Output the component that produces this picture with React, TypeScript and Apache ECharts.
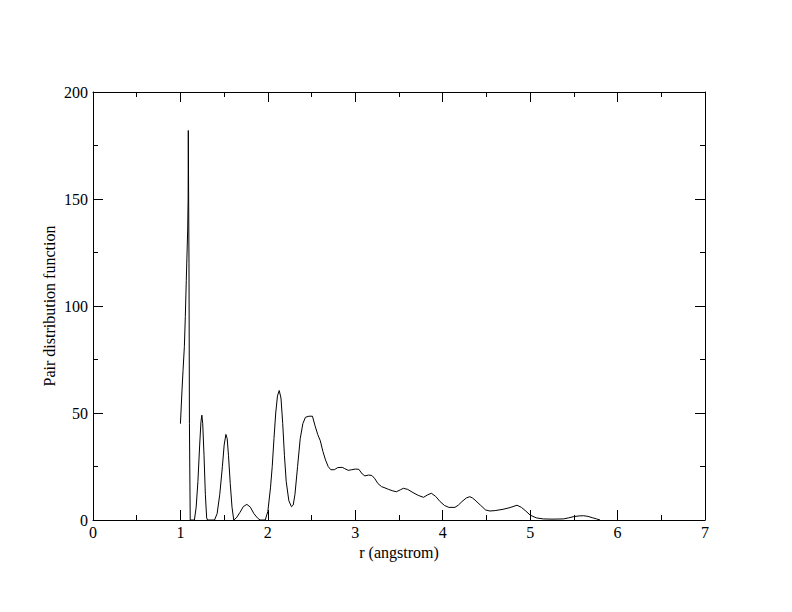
import React, { useEffect, useRef } from "react";
import * as echarts from "echarts";

const rValues: number[] = [
  1.0, 1.018, 1.03, 1.045, 1.056, 1.067, 1.083, 1.088, 1.09, 1.094, 1.098, 1.103, 1.112,
  1.16, 1.18, 1.2, 1.22, 1.235, 1.245, 1.255, 1.27, 1.285, 1.3, 1.31,
  1.39, 1.42, 1.45, 1.48, 1.5, 1.52, 1.535, 1.55, 1.57, 1.59, 1.61,
  1.64, 1.68, 1.72, 1.76, 1.8, 1.84, 1.88, 1.91,
  1.97, 2.0, 2.03, 2.05, 2.07, 2.09, 2.11, 2.13, 2.15, 2.17, 2.19, 2.21, 2.24, 2.27, 2.29,
  2.31, 2.34, 2.37, 2.4, 2.43, 2.47, 2.51, 2.54, 2.57, 2.6, 2.63, 2.66, 2.69, 2.72, 2.76,
  2.8, 2.85, 2.88, 2.92, 2.96, 3.0, 3.04, 3.08, 3.11, 3.15, 3.19, 3.22, 3.26, 3.3, 3.34,
  3.38, 3.43, 3.47, 3.52, 3.55, 3.6, 3.66, 3.72, 3.78, 3.83, 3.87, 3.92, 3.97, 4.02, 4.07,
  4.14, 4.18, 4.22, 4.27, 4.31, 4.34, 4.37, 4.43, 4.49, 4.54, 4.6, 4.69, 4.77, 4.85, 4.9,
  4.95, 5.0, 5.07, 5.15, 5.25, 5.38, 5.44, 5.5, 5.56, 5.61, 5.66, 5.71, 5.76, 5.8,
];

const gValues: number[] = [
  45, 60.7, 70, 81, 95, 112, 135.5, 150, 182, 150, 120, 45, 0,
  0, 6, 18, 35, 46, 49, 45, 30, 12, 1, 0,
  0, 3, 12, 25, 35, 40, 38, 30, 17, 6, 0,
  1, 3.5, 6.3, 7.3, 6, 3, 1, 0,
  0, 4, 15, 25, 38, 50, 58, 60.5, 57, 45, 30, 18, 9, 6.2, 7,
  12, 25, 38, 45, 48, 48.5, 48.5, 44, 40, 37, 32, 28, 25, 23.5, 23.5,
  24.5, 24.6, 24, 23.2, 23.5, 23.8, 23.7, 21.5, 20.6, 21, 20.8, 19.5, 17, 15.6, 15,
  14.3, 13.6, 13.2, 14.2, 14.8, 14.3, 12.8, 11.5, 10.6, 11.8, 12.5, 11, 8.6, 6.8, 5.9,
  5.9, 7, 8.6, 10.3, 10.9, 10.3, 9.3, 7, 4.7, 4.2, 4.4, 5, 5.8, 6.9, 5.9,
  4.2, 2.3, 1, 0.5, 0.4, 0.5, 1, 1.6, 1.9, 2.0, 1.7, 1.1, 0.5, 0,
];

const xTicks = [0, 1, 2, 3, 4, 5, 6, 7];
const yTicks = [0, 50, 100, 150, 200];

const FONT = "'Liberation Serif', 'Times New Roman', 'DejaVu Serif', serif";

export default function App() {
  const ref = useRef<HTMLDivElement>(null);
  useEffect(() => {
    if (!ref.current) return;
    const chart = echarts.init(ref.current, undefined, { renderer: "svg" });
    const data = rValues.map((r, i) => [r, gValues[i]]);
    const axisLine = { show: true, onZero: false, lineStyle: { color: "#000", width: 1 } };
    const majorTick = { show: true, inside: true, length: 10, lineStyle: { color: "#000", width: 1 } };
    const minorTick = { show: true, splitNumber: 2, length: 5, lineStyle: { color: "#000", width: 1 } };
    chart.setOption({
      animation: false,
      backgroundColor: "#fff",
      textStyle: { fontFamily: FONT },
      grid: { left: 93, right: 87, top: 92, bottom: 92, containLabel: false },
      xAxis: [
        {
          type: "value",
          min: xTicks[0],
          max: xTicks[xTicks.length - 1],
          interval: 1,
          position: "bottom",
          axisLine,
          axisTick: majorTick,
          minorTick,
          splitLine: { show: false },
          axisLabel: { color: "#000", fontFamily: FONT, fontSize: 16, margin: 4 },
          name: "r (angstrom)",
          nameLocation: "middle",
          nameGap: 22,
          nameTextStyle: { color: "#000", fontFamily: FONT, fontSize: 16, verticalAlign: "top" },
        },
        {
          type: "value",
          min: xTicks[0],
          max: xTicks[xTicks.length - 1],
          interval: 1,
          position: "top",
          axisLine,
          axisTick: majorTick,
          minorTick,
          splitLine: { show: false },
          axisLabel: { show: false },
        },
      ],
      yAxis: [
        {
          type: "value",
          min: yTicks[0],
          max: yTicks[yTicks.length - 1],
          interval: 50,
          position: "left",
          axisLine,
          axisTick: majorTick,
          minorTick,
          splitLine: { show: false },
          axisLabel: { color: "#000", fontFamily: FONT, fontSize: 16, margin: 5 },
          name: "Pair distribution function",
          nameLocation: "middle",
          nameGap: 36,
          nameMoveOverlap: false,
          nameTextStyle: { color: "#000", fontFamily: FONT, fontSize: 16 },
        },
        {
          type: "value",
          min: yTicks[0],
          max: yTicks[yTicks.length - 1],
          interval: 50,
          position: "right",
          axisLine,
          axisTick: majorTick,
          minorTick,
          splitLine: { show: false },
          axisLabel: { show: false },
        },
      ],
      series: [
        {
          type: "line",
          data,
          xAxisIndex: 0,
          yAxisIndex: 0,
          showSymbol: false,
          symbol: "none",
          lineStyle: { color: "#000", width: 1 },
          clip: false,
        },
      ],
    });
    return () => chart.dispose();
  }, []);
  return <div ref={ref} style={{ width: 792, height: 612, position: "absolute", left: 0, top: 0 }} />;
}
